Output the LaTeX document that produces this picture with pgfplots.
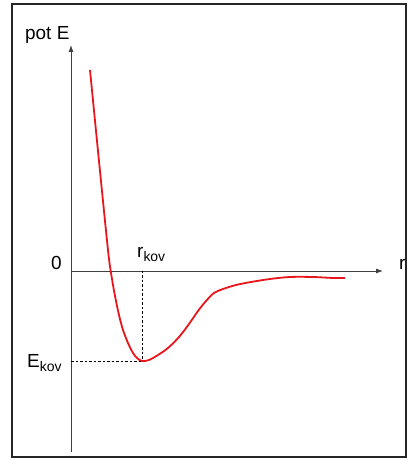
\documentclass[border=0pt]{standalone}
\usepackage{pgfplots}
\pgfplotsset{compat=1.18}
\usepackage{fontspec}
\setmainfont{Liberation Sans}
\usetikzlibrary{arrows.meta}
\definecolor{curvered}{HTML}{E8161B}
\definecolor{axgray}{HTML}{404040}
\newcommand{\kov}{\raisebox{-4bp}{\fontsize{14}{16}\selectfont kov}}
\begin{document}
\begin{tikzpicture}
\begin{axis}[
  scale only axis,
  width=312bp, height=407bp,
  xmin=0, xmax=312, ymin=-181, ymax=226,
  axis lines=middle,
  axis line style={axgray, line width=0.9bp, -{Latex[length=7bp,width=5bp]}},
  xtick=\empty, ytick=\empty,
  clip=false,
  font=\fontsize{19}{22}\selectfont,
]
% bounding box and frame
\path (axis cs:-71,-189) rectangle (axis cs:337,271);
\draw[black!85, line width=1.3bp] (axis cs:-59,-186) rectangle (axis cs:335,267);
% dashed guides
\addplot[black, line width=0.9bp, dash pattern=on 2.5bp off 2bp] coordinates {(71,0) (71,-90)};
\addplot[black, line width=0.9bp, dash pattern=on 2.5bp off 2bp] coordinates {(0,-90) (71,-90)};
% potential curve
\addplot[curvered, line width=1.8bp, smooth, tension=0.55] coordinates {
(19,201) (26,130) (34,50) (38,12) (41,-8) (44,-25) (48,-44) (52,-59) (57,-72) (62,-82) (66,-87)
(71,-90) (78,-89) (87,-84) (97,-77) (108,-66) (118,-53) (127,-40) (135,-30) (143,-22)
(152,-18) (165,-14) (180,-11) (199,-8) (219,-6) (242,-6) (262,-7) (274,-7)
};
% labels
\node[anchor=base west, inner sep=0pt] at (axis cs:-46,231) {pot E};
\node[anchor=base west, inner sep=0pt] at (axis cs:-20,1) {0};
\node[anchor=base west, inner sep=0pt] at (axis cs:328,1) {r};
\node[anchor=base west, inner sep=0pt] at (axis cs:66,13) {r\kov};
\node[anchor=base west, inner sep=0pt] at (axis cs:-44,-97) {E\kov};
\end{axis}
\end{tikzpicture}
\end{document}
